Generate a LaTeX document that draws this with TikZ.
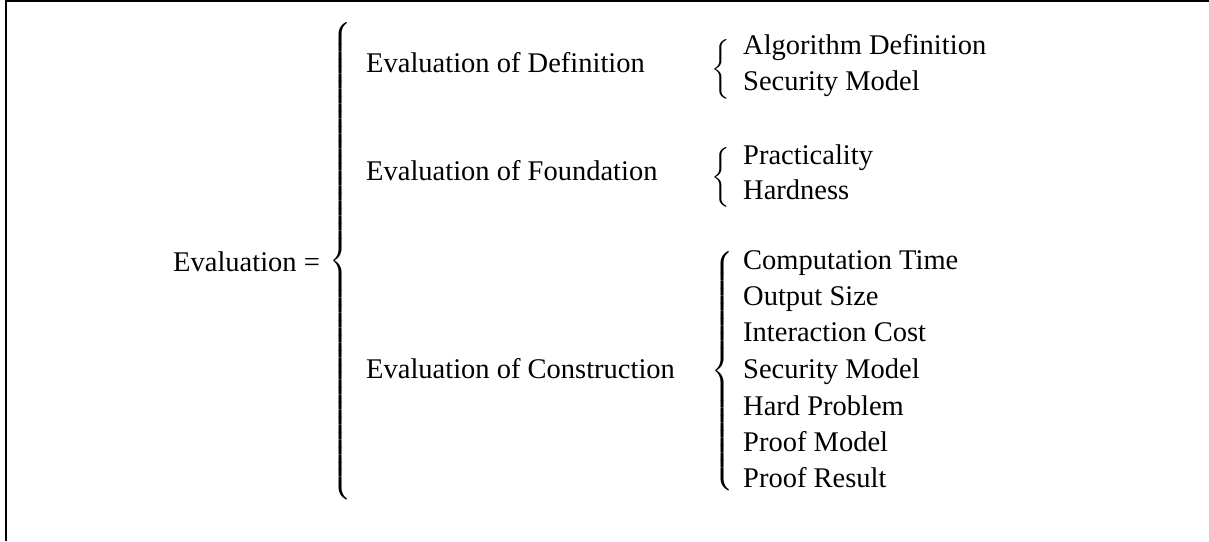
\documentclass[tikz,border=0pt]{standalone}
\usepackage{exscale}
\usepackage{fontspec}
\setmainfont{Liberation Serif}
\begin{document}
\begin{tikzpicture}[x=1pt,y=1pt,
  txt/.style={anchor=west,inner sep=0pt,text height=0.7em,text depth=0.2em,font=\fontsize{28.5}{34}\selectfont},
  brc/.style={anchor=west,inner sep=0pt,font=\fontsize{28.5}{34}\selectfont}]
\useasboundingbox (0,0) rectangle (1209,541);
\draw[line width=1.3pt] (6,0) -- (6,540) -- (1209,540);
% level 0
\node[txt] (ev) at (173,272) {Evaluation =};
\node[brc] (b0) at (329,280) {$\left\{\vcenter{\hrule height 470pt width 0pt}\right.$};
% level 1
\node[txt] (def) at (366,471) {Evaluation of Definition};
\node[txt] (fou) at (366,363) {Evaluation of Foundation};
\node[txt] (con) at (366,165) {Evaluation of Construction};
% brace definition
\node[brc] (b1) at (711,472) {$\left\{\vcenter{\hrule height 58pt width 0pt}\right.$};
\node[txt] (d1) at (743,489) {Algorithm Definition};
\node[txt] (d2) at (743,453) {Security Model};
% brace foundation
\node[brc] (b2) at (711,364) {$\left\{\vcenter{\hrule height 58pt width 0pt}\right.$};
\node[txt] (f1) at (743,379) {Practicality};
\node[txt] (f2) at (743,344) {Hardness};
% brace construction
\node[brc] (b3) at (711,170) {$\left\{\vcenter{\hrule height 238pt width 0pt}\right.$};
\node[txt] (c1) at (743,274) {Computation Time};
\node[txt] (c2) at (743,238) {Output Size};
\node[txt] (c3) at (743,201.5) {Interaction Cost};
\node[txt] (c4) at (743,165) {Security Model};
\node[txt] (c5) at (743,128.5) {Hard Problem};
\node[txt] (c6) at (743,92) {Proof Model};
\node[txt] (c7) at (743,56) {Proof Result};
\end{tikzpicture}
\end{document}
